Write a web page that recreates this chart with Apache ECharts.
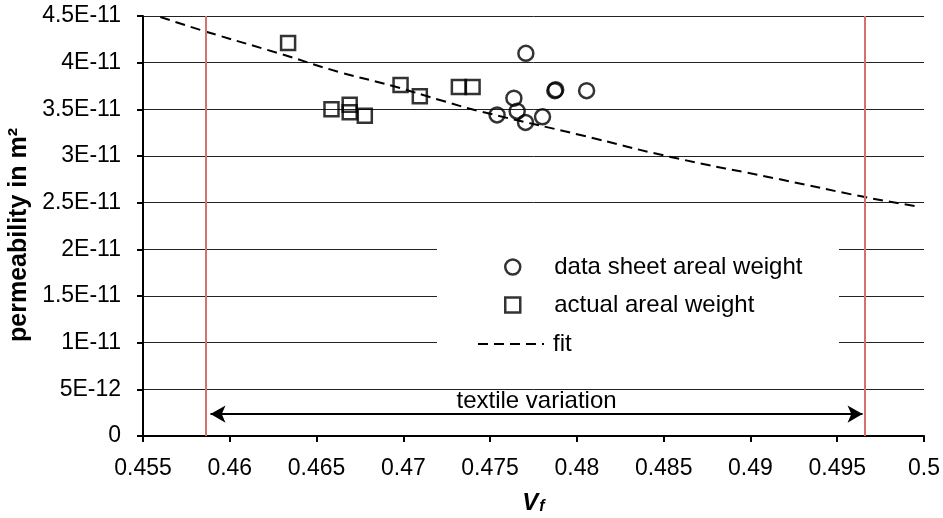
<!DOCTYPE html>
<html>
<head>
<meta charset="utf-8">
<script src="https://cdn.jsdelivr.net/npm/echarts@6/dist/echarts.min.js"></script>
<style>
html, body {margin: 0; padding: 0; background: #fff;}
#chart {width: 943px; height: 518px;}
</style>
</head>
<body>
<div id="chart"></div>
<script>
var xLabels = ['0.455', '0.46', '0.465', '0.47', '0.475', '0.48', '0.485', '0.49', '0.495', '0.5'];
var yLabels = ['0', '5E-12', '1E-11', '1.5E-11', '2E-11', '2.5E-11', '3E-11', '3.5E-11', '4E-11', '4.5E-11'];

// data sheet areal weight (circles)
var sheetVf = [0.47706, 0.47873, 0.47878, 0.48056, 0.47637, 0.47540, 0.47656, 0.47704, 0.47802];
var sheetK = [4.10e-11, 3.70e-11, 3.71e-11, 3.70e-11, 3.62e-11, 3.44e-11, 3.48e-11, 3.36e-11, 3.42e-11];

// actual areal weight (squares)
var actualVf = [0.46336, 0.46586, 0.46691, 0.46691, 0.46778, 0.46984, 0.47095, 0.47320, 0.47399];
var actualK = [4.21e-11, 3.50e-11, 3.55e-11, 3.47e-11, 3.43e-11, 3.76e-11, 3.64e-11, 3.74e-11, 3.74e-11];

// fit curve
var fitVf = [0.4560, 0.4585, 0.4630, 0.4663, 0.4694, 0.4721, 0.4744, 0.4802, 0.4854, 0.4917, 0.4966, 0.4996];
var fitK = [4.49e-11, 4.34e-11, 4.09e-11, 3.90e-11, 3.75e-11, 3.60e-11, 3.48e-11, 3.225e-11, 2.99e-11, 2.75e-11, 2.56e-11, 2.46e-11];

// textile variation bounds and arrow
var variationVf = [0.4586, 0.4966];
var arrowVf = [0.45889, 0.49646];
var arrowK = 2.35e-12;

function pairs(xs, ys) {
	var out = [];
	for (var i = 0; i < xs.length; i++) out.push([xs[i], ys[i]]);
	return out;
}

var font = 'Liberation Sans, Arial, sans-serif';
var myChart = echarts.init(document.getElementById('chart'));

function legendFor(name, icon, top) {
	return {
		data: [{name: name, icon: icon}],
		left: 504,
		top: top,
		padding: 0,
		itemWidth: 15,
		itemHeight: 15,
		selectedMode: false,
		itemStyle: {color: 'transparent', borderColor: '#000', borderWidth: 2.5},
		textStyle: {fontFamily: font, fontSize: 24, color: '#000', padding: [0, 0, 0, 29]}
	};
}

var fitLegend = {
	data: ['fit'],
	left: 477,
	top: 332,
	padding: 0,
	itemWidth: 66,
	itemHeight: 14,
	selectedMode: false,
	itemStyle: {color: 'transparent', borderColor: 'transparent', borderWidth: 0, opacity: 0},
	textStyle: {fontFamily: font, fontSize: 24, color: '#000', padding: [0, 0, 0, 4]}
};

var option = {
	animation: false,
	backgroundColor: '#fff',
	grid: {left: 143, right: 19, top: 16, bottom: 82, containLabel: false, outerBoundsMode: 'none'},
	legend: [
		legendFor('data sheet areal weight', 'circle', 255),
		legendFor('actual areal weight', 'rect', 293),
		fitLegend
	],
	graphic: {
		elements: [{
			type: 'rect',
			z: 1,
			shape: {x: 437, y: 220, width: 402, height: 150},
			style: {fill: '#fff'}
		}]
	},
	xAxis: {
		type: 'value',
		min: 0.455,
		max: 0.5,
		interval: 0.005,
		name: '{v|V}{f|f}',
		nameLocation: 'middle',
		nameGap: 55,
		nameTextStyle: {
			rich: {
				v: {fontFamily: font, fontSize: 24, fontWeight: 'bold', fontStyle: 'italic', color: '#000', lineHeight: 24, verticalAlign: 'bottom'},
				f: {fontFamily: font, fontSize: 16, fontWeight: 'bold', fontStyle: 'italic', color: '#000', lineHeight: 2, verticalAlign: 'bottom', padding: [0, 0, 0, 1]}
			}
		},
		axisLine: {show: true, onZero: false, lineStyle: {color: '#000', width: 2}},
		axisTick: {show: true, inside: false, length: 6, lineStyle: {color: '#000', width: 2}},
		splitLine: {show: false},
		axisLabel: {
			fontFamily: font, fontSize: 23, color: '#000', margin: 21,
			formatter: function(v) { return xLabels[Math.round((v - 0.455) / 0.005)]; }
		}
	},
	yAxis: {
		type: 'value',
		min: 0,
		max: 4.5e-11,
		interval: 5e-12,
		name: 'permeability in m²',
		nameLocation: 'middle',
		nameGap: 107,
		nameTextStyle: {fontFamily: font, fontSize: 25, fontWeight: 'bold', color: '#000', padding: [0, 0, 0, -18]},
		axisLine: {show: true, lineStyle: {color: '#000', width: 2}},
		axisTick: {show: true, inside: false, length: 6, lineStyle: {color: '#000', width: 2}},
		splitLine: {show: true, lineStyle: {color: '#222', width: 1}},
		axisLabel: {
			fontFamily: font, fontSize: 23, color: '#000', margin: 22,
			formatter: function(v) { return yLabels[Math.round(v / 5e-12)]; }
		}
	},
	series: [
		{
			name: 'data sheet areal weight',
			type: 'scatter',
			symbol: 'circle',
			symbolSize: 15,
			z: 3,
			itemStyle: {color: 'transparent', borderColor: '#000', borderWidth: 2.5},
			data: pairs(sheetVf, sheetK)
		},
		{
			name: 'actual areal weight',
			type: 'scatter',
			symbol: 'rect',
			symbolSize: 14,
			z: 3,
			itemStyle: {color: 'transparent', borderColor: '#000', borderWidth: 2.5},
			data: pairs(actualVf, actualK)
		},
		{
			name: 'fit',
			type: 'line',
			smooth: true,
			symbol: 'none',
			z: 2,
			lineStyle: {color: '#000', width: 2, type: [10, 6]},
			data: pairs(fitVf, fitK),
			markLine: {
				silent: true,
				symbol: 'none',
				precision: 6,
				animation: false,
				label: {show: false},
				lineStyle: {color: '#d8706b', width: 2, type: 'solid'},
				data: [{xAxis: variationVf[0]}, {xAxis: variationVf[1]}]
			}
		},
		{
			name: 'textile variation',
			type: 'line',
			data: [],
			markLine: {
				silent: true,
				animation: false,
				precision: 6,
				symbol: ['arrow', 'arrow'],
				symbolSize: [13, 15],
				lineStyle: {color: '#000', width: 2, type: 'solid'},
				label: {
					show: true,
					position: 'middle',
					formatter: 'textile variation',
					fontFamily: font,
					fontSize: 24,
					color: '#000',
					distance: 1
				},
				data: [[{coord: [arrowVf[0], arrowK]}, {coord: [arrowVf[1], arrowK]}]]
			}
		}
	]
};

myChart.setOption(option);
</script>
</body>
</html>
